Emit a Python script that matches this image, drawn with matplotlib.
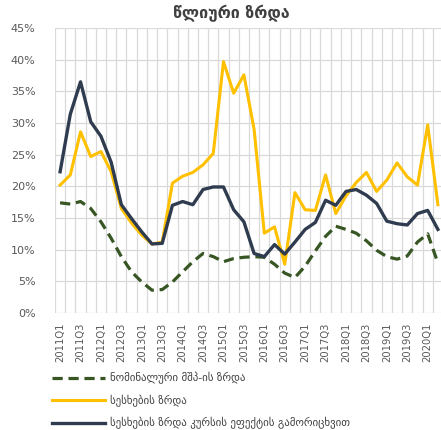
import numpy as np
import matplotlib
matplotlib.use('Agg')
import matplotlib.pyplot as plt
from matplotlib.ticker import FuncFormatter

# ==========================================
# DATA (annual growth, %)
# ==========================================
quarters = [f"{y}Q{q}" for y in range(2011, 2021) for q in range(1, 5)][:38]

nominal_gdp = [17.4, 17.2, 17.6, 16.5, 14.4, 11.8, 8.9, 6.5, 4.9, 3.6,
               3.7, 4.9, 6.5, 8.1, 9.4, 8.9, 8.1, 8.6, 8.8, 8.9,
               8.8, 7.7, 6.3, 5.6, 7.4, 9.8, 12.1, 13.7, 13.2, 12.6,
               11.4, 9.9, 8.9, 8.5, 9.0, 11.2, 12.5, 7.9]

loans = [20.2, 21.8, 28.6, 24.7, 25.5, 22.3, 16.5, 14.2, 12.3, 10.9,
         11.2, 20.5, 21.6, 22.2, 23.4, 25.2, 39.7, 34.7, 37.6, 29.0,
         12.6, 13.6, 7.7, 19.0, 16.3, 16.2, 21.8, 15.7, 18.5, 20.6,
         22.2, 19.2, 21.0, 23.7, 21.5, 20.2, 29.7, 17.1]

loans_fx_adj = [22.3, 31.4, 36.5, 30.2, 27.9, 23.8, 17.1, 14.9, 12.8, 10.9,
                11.0, 17.0, 17.6, 17.1, 19.5, 19.9, 19.9, 16.3, 14.4, 9.4,
                8.9, 10.8, 9.3, 11.2, 13.2, 14.3, 17.8, 17.0, 19.2, 19.5,
                18.6, 17.3, 14.5, 14.1, 13.9, 15.7, 16.2, 13.2]

title = "წლიური ზრდა"
labels = ["ნომინალური მშპ-ის ზრდა",
          "სესხების ზრდა",
          "სესხების ზრდა კურსის ეფექტის გამორიცხვით"]

# ==========================================
# FIGURE
# ==========================================
W, H = 441, 430
fig = plt.figure(figsize=(W / 100, H / 100), dpi=100)
ax = fig.add_axes([55 / W, (H - 313) / H, 388 / W, 285 / H])

x = np.arange(len(quarters))
ax.plot(x, nominal_gdp, color='#375623', lw=2.3, linestyle=(0, (3.2, 1.8)),
        label=labels[0], dash_capstyle='butt')
ax.plot(x, loans, color='#FFC000', lw=2.2, label=labels[1])
ax.plot(x, loans_fx_adj, color='#2F3B4E', lw=2.4, label=labels[2])

ax.set_xlim(-0.5, len(quarters) - 0.5)
ax.set_ylim(0, 45)
ax.set_yticks(np.arange(0, 46, 5))
ax.yaxis.set_major_formatter(FuncFormatter(lambda v, p: f"{v:.0f}%"))

# vertical gridlines at category boundaries
ax.set_xticks(np.arange(-0.5, len(quarters), 1), minor=True)
ax.set_xticks(x[::2])
ax.set_xticklabels(quarters[::2], rotation=90)
ax.grid(True, which='minor', axis='x', color='#d9d9d9', lw=0.9)
ax.grid(True, which='major', axis='y', color='#d9d9d9', lw=0.9)
ax.set_axisbelow(True)
for s in ax.spines.values():
    s.set_visible(False)
ax.tick_params(which='both', length=0)
ax.tick_params(axis='y', labelsize=8, labelcolor='#595959', pad=14)
ax.tick_params(axis='x', labelsize=7.2, labelcolor='#595959', pad=7)

fig.text(231 / W, 1 - 13 / H, title, ha='center', va='center',
         fontsize=11.5, fontweight='bold', color='#404040')

fig.legend(loc='upper left', bbox_to_anchor=(52 / W, 1 - 372 / H),
           frameon=False, fontsize=7.8, labelcolor='#404040',
           handlelength=4.9, handletextpad=0.45, labelspacing=0.95,
           borderaxespad=0, borderpad=0)

fig.savefig('out.png', dpi=100)
